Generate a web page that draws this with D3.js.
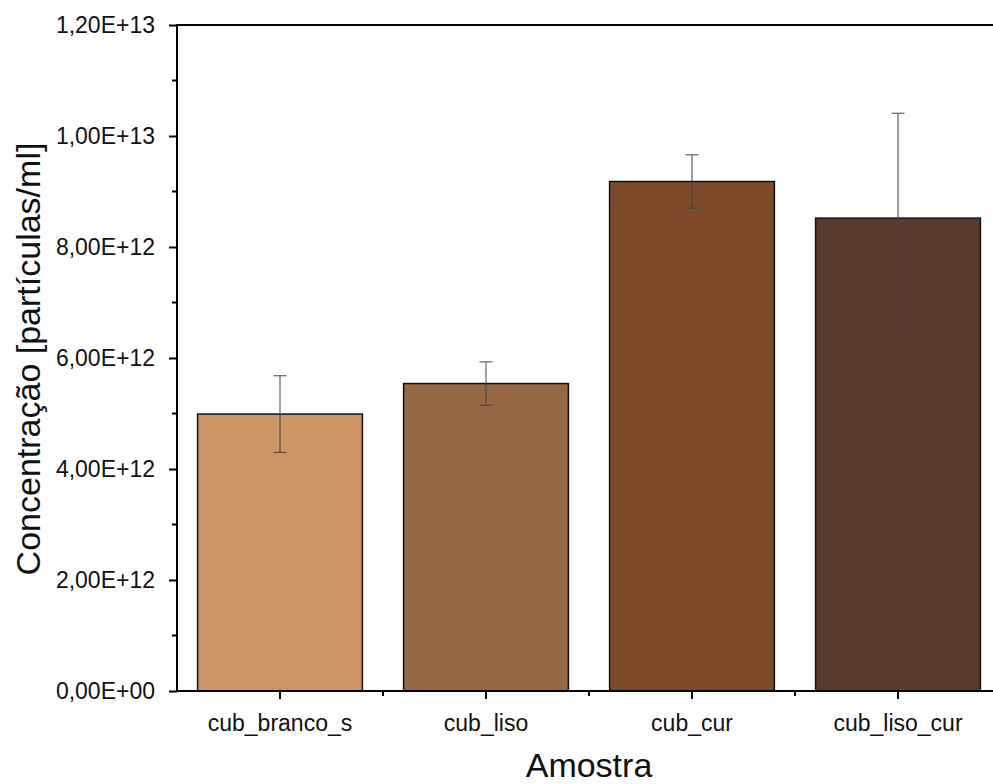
<!DOCTYPE html>
<html><head><meta charset="utf-8">
<script src="https://cdn.jsdelivr.net/npm/d3@7"></script>
<style>body{margin:0;background:#fff;}svg{display:block;font-family:"Liberation Sans",Arial,sans-serif;}</style>
</head><body>
<svg id="c" width="993" height="784"></svg>
<script>
const categories = ["cub_branco_s","cub_liso","cub_cur","cub_liso_cur"];
const values = [4.99e12, 5.54e12, 9.18e12, 8.52e12];
const errors = [0.69e12, 0.39e12, 0.48e12, 1.89e12];
const colors = ["#CD9565","#976843","#7F4A2A","#583B2C"];
const yTicks = [0, 2e12, 4e12, 6e12, 8e12, 1e13, 1.2e13];
const yTickLabels = ["0,00E+00","2,00E+12","4,00E+12","6,00E+12","8,00E+12","1,00E+13","1,20E+13"];

(function(){
const svg = d3.select("#c");
const mL = 177, mT = 25, mB = 691, mR = 1001;
const x = d3.scaleBand().domain(categories).range([mL, mR]).paddingInner(0.2).paddingOuter(0.1);
const y = d3.scaleLinear().domain([0, 1.2e13]).range([mB, mT]);

// bars
svg.append("g").selectAll("rect").data(categories).join("rect")
  .attr("x", d => x(d)).attr("width", x.bandwidth())
  .attr("y", (d,i) => y(values[i])).attr("height", (d,i) => y(0) - y(values[i]))
  .attr("fill", (d,i) => colors[i]).attr("stroke", "#111").attr("stroke-width", 1.5);

// error bars
const eg = svg.append("g").attr("stroke", "#444").attr("stroke-width", 1);
categories.forEach((c,i) => {
  const cx = x(c) + x.bandwidth()/2;
  eg.append("line").attr("x1", cx).attr("x2", cx).attr("y1", y(values[i]+errors[i])).attr("y2", y(values[i]-errors[i]));
  [values[i]+errors[i], values[i]-errors[i]].forEach(v => {
    eg.append("line").attr("x1", cx-6.5).attr("x2", cx+6.5).attr("y1", y(v)).attr("y2", y(v));
  });
});

// y axis
const yAxis = d3.axisLeft(y).tickValues(yTicks).tickFormat((d,i) => yTickLabels[i]).tickSize(8).tickPadding(14);
const ya = svg.append("g").attr("transform", `translate(${mL},0)`).call(yAxis);
ya.select(".domain").attr("stroke-width", 2).attr("d", `M0,${mT}V${mB+1}`);
ya.selectAll(".tick line").attr("stroke-width", 2);
ya.selectAll(".tick text").attr("font-size", 23).attr("fill", "#111").attr("font-family", "Liberation Sans, Arial, sans-serif");
// minor ticks
const minor = d3.range(1e12, 1.2e13, 2e12);
svg.append("g").selectAll("line").data(minor).join("line")
  .attr("x1", mL-5).attr("x2", mL).attr("y1", d => y(d)).attr("y2", d => y(d))
  .attr("stroke", "#000").attr("stroke-width", 2);

// x axis
const xAxis = d3.axisBottom(x).tickSize(8).tickPadding(16);
const xa = svg.append("g").attr("transform", `translate(0,${mB})`).call(xAxis);
xa.select(".domain").attr("stroke-width", 2).attr("d", `M${mL-1},0H${mR}`);
xa.selectAll(".tick line").attr("stroke-width", 2);
xa.selectAll(".tick text").attr("font-size", 23).attr("fill", "#111").attr("font-family", "Liberation Sans, Arial, sans-serif");
// minor x ticks between categories
const step = x.step();
svg.append("g").selectAll("line").data(d3.range(1, categories.length)).join("line")
  .attr("x1", d => mL + d*step).attr("x2", d => mL + d*step)
  .attr("y1", mB).attr("y2", mB+5).attr("stroke", "#000").attr("stroke-width", 2);

// top frame
svg.append("line").attr("x1", mL-1).attr("x2", mR).attr("y1", mT).attr("y2", mT).attr("stroke", "#000").attr("stroke-width", 2);

// labels
svg.append("text").attr("x", (mL+mR)/2).attr("y", 777).attr("text-anchor", "middle")
  .attr("font-size", 34).attr("fill", "#111").text("Amostra");
svg.append("text").attr("transform", `translate(40,359) rotate(-90)`).attr("text-anchor", "middle")
  .attr("font-size", 34).attr("fill", "#111").text("Concentração [partículas/ml]");
})();
</script>
</body></html>
